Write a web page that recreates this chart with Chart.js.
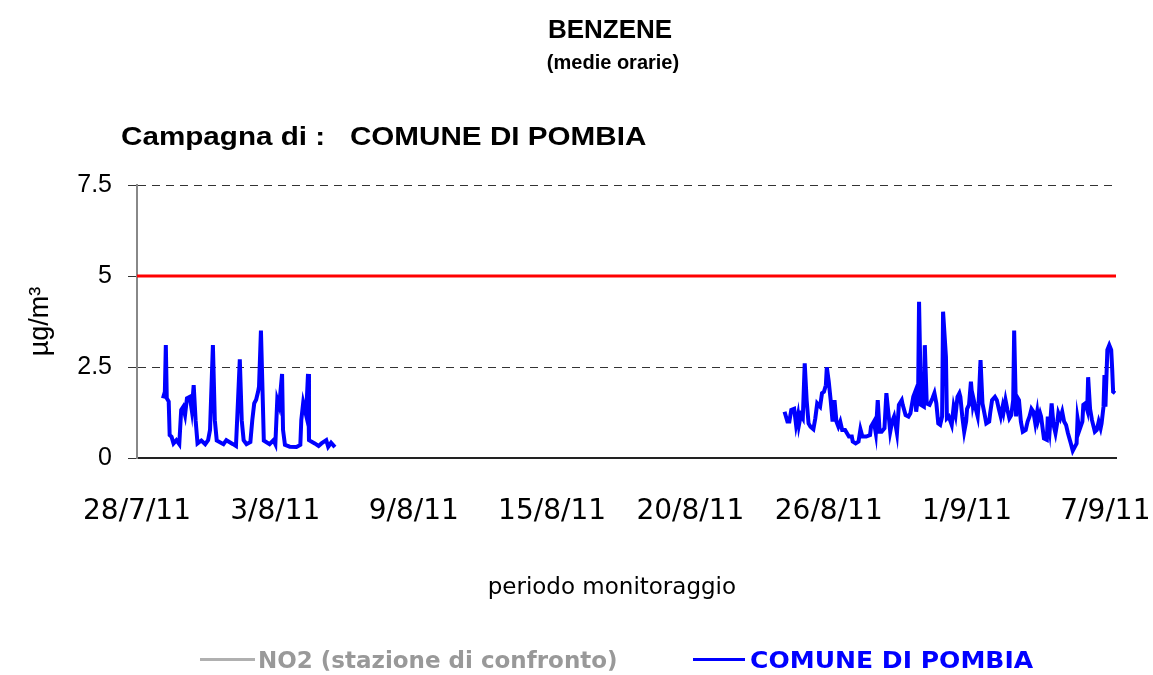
<!DOCTYPE html>
<html>
<head>
<meta charset="utf-8">
<title>Benzene - Comune di Pombia</title>
<script src="https://cdn.jsdelivr.net/npm/chart.js@4.4.1/dist/chart.umd.min.js"></script>
<style>
  html, body { margin: 0; padding: 0; background: #fff; }
  #wrap { position: relative; width: 1153px; height: 675px; overflow: hidden; }
  #chart { position: absolute; left: 0; top: 0; }
  .txt { position: absolute; white-space: pre; line-height: 1; transform: translateY(-50%); }
  .arial { font-family: "Liberation Sans", Arial, sans-serif; font-weight: bold; color: #000; }
  .center { transform: translate(-50%, -50%); }
  .wide { transform-origin: 0 50%; transform: translateY(-50%) scaleX(1.14); }
  .leg { font-family: "DejaVu Sans", sans-serif; font-weight: bold; font-size: 23px; }
  .legline { position: absolute; height: 3px; }
</style>
</head>
<body>
<div id="wrap">
  <canvas id="chart" width="1153" height="675"></canvas>

  <div class="txt arial center" style="left:610px; top:29px; font-size:26px;">BENZENE</div>
  <div class="txt arial center" style="left:613px; top:62px; font-size:20px;">(medie orarie)</div>
  <div class="txt arial wide" style="left:121px; top:136px; font-size:26px;">Campagna di :   COMUNE DI POMBIA</div>

  <div class="legline" style="left:200px; top:658px; width:55px; background:#b0b0b0;"></div>
  <div class="txt leg" style="left:258px; top:660px; color:#999;">NO2 (stazione di confronto)</div>
  <div class="legline" style="left:693px; top:658px; width:52px; background:#0000ff;"></div>
  <div class="txt leg" style="left:750px; top:660px; color:#0000ff; transform-origin:0 50%; transform:translateY(-50%) scaleX(1.09);">COMUNE DI POMBIA</div>
</div>

<script>
/* ── Data (hourly means, x = hours from 28/7/11) ─────────────────── */
const xMaxHour    = 1019;
const xTickHours  = [0, 144, 288, 432, 576, 720, 864, 1008];
const xTickLabels = ['28/7/11', '3/8/11', '9/8/11', '15/8/11', '20/8/11', '26/8/11', '1/9/11', '7/9/11'];
const yTicks      = [0, 2.5, 5, 7.5];
const limitValue  = 5;

// first part of the campaign
const hoursP1 = [27, 29, 30, 31, 33, 34, 36, 38, 41, 44,
                 46, 48, 50, 52, 55, 57, 59, 61, 63, 67,
                 71, 74, 76, 79, 81, 83, 90, 93, 100, 103,
                 105, 107, 109, 111, 114, 118, 120, 122, 124, 126,
                 127, 129, 131, 132, 138, 142, 144, 146, 148, 151,
                 152, 154, 159, 166, 170, 171, 173, 176, 178, 179,
                 185, 189, 192, 197, 199, 202, 206];
const valuesP1 = [1.64, 1.82, 3.10, 1.64, 1.55, 0.63, 0.58, 0.40, 0.49, 0.38,
                  1.32, 1.40, 1.18, 1.64, 1.68, 1.32, 2.00, 1.04, 0.40, 0.48,
                  0.38, 0.49, 0.77, 3.10, 1.04, 0.48, 0.38, 0.49, 0.38, 0.33,
                  1.50, 2.71, 1.04, 0.49, 0.38, 0.44, 1.04, 1.50, 1.60, 1.82,
                  1.96, 3.50, 1.50, 0.48, 0.38, 0.49, 0.38, 1.60, 1.43, 2.31,
                  0.77, 0.36, 0.31, 0.30, 0.36, 1.04, 1.52, 1.18, 2.31, 0.49,
                  0.40, 0.33, 0.40, 0.49, 0.31, 0.42, 0.30];

// second part of the campaign
const hoursP2 = [674, 677, 679, 681, 684, 686, 688, 689, 691, 693,
                 695, 697, 699, 701, 704, 706, 708, 711, 713, 715,
                 717, 718, 720, 722, 724, 726, 728, 730, 732, 734,
                 737, 739, 741, 744, 745, 748, 751, 753, 755, 759,
                 763, 764, 767, 769, 771, 773, 775, 778, 780, 783,
                 784, 786, 788, 791, 793, 796, 797, 800, 803, 805,
                 808, 810, 811, 813, 814, 816, 819, 820, 822, 825,
                 828, 830, 832, 834, 836, 838, 839, 842, 843, 845,
                 848, 850, 852, 854, 856, 857, 859, 861, 863, 864,
                 866, 868, 870, 871, 873, 875, 876, 878, 880, 882,
                 884, 887, 888, 890, 893, 895, 897, 899, 901, 902,
                 904, 906, 908, 910, 912, 913, 915, 916, 918, 920,
                 922, 925, 927, 929, 931, 933, 935, 937, 938, 940,
                 941, 944, 947, 948, 950, 952, 954, 956, 958, 959,
                 961, 963, 965, 967, 969, 972, 974, 976, 978, 979,
                 981, 984, 985, 987, 989, 990, 992, 994, 997, 999,
                 1001, 1003, 1004, 1006, 1007, 1008, 1010, 1012, 1014, 1015,
                 1016, 1018];
const valuesP2 = [1.27, 1.00, 1.00, 1.32, 1.35, 0.91, 1.18, 0.91, 1.18, 1.09,
                  2.60, 1.59, 0.95, 0.86, 0.79, 1.09, 1.50, 1.41, 1.78, 1.82,
                  2.00, 2.49, 2.10, 1.59, 1.00, 1.59, 1.00, 0.86, 1.00, 0.77,
                  0.77, 0.68, 0.59, 0.59, 0.45, 0.40, 0.45, 0.79, 0.59, 0.59,
                  0.63, 0.86, 1.00, 0.68, 1.59, 0.72, 0.72, 0.82, 1.78, 1.00,
                  0.72, 1.00, 1.14, 0.68, 1.46, 1.59, 1.46, 1.18, 1.14, 1.23,
                  1.68, 1.82, 1.27, 1.68, 4.29, 1.46, 1.41, 3.10, 1.50, 1.46,
                  1.64, 1.78, 1.50, 0.95, 0.91, 1.14, 4.02, 2.78, 1.09, 1.14,
                  0.91, 1.41, 1.18, 1.68, 1.78, 1.68, 1.14, 0.72, 1.00, 1.35,
                  1.46, 2.10, 1.46, 1.59, 1.35, 1.14, 1.50, 2.69, 1.50, 1.23,
                  0.95, 1.00, 1.23, 1.59, 1.68, 1.59, 1.35, 1.14, 1.41, 1.27,
                  1.59, 1.32, 1.09, 1.18, 1.59, 3.50, 1.14, 1.68, 1.59, 1.00,
                  0.72, 0.77, 1.00, 1.14, 1.35, 1.27, 0.95, 1.27, 1.04, 1.23,
                  1.14, 0.54, 0.50, 1.14, 0.77, 1.50, 0.91, 0.68, 1.00, 1.23,
                  1.09, 1.27, 1.00, 0.91, 0.68, 0.40, 0.20, 0.30, 0.40, 1.09,
                  0.77, 1.00, 1.46, 1.50, 1.32, 2.22, 1.35, 1.04, 0.72, 0.77,
                  1.00, 0.82, 0.95, 1.41, 2.28, 1.41, 2.97, 3.10, 2.97, 2.46,
                  1.82, 1.78];

// reference station: nothing plotted in this period
const no2Values = [];

/* ── Build series ───────────────────────────────────────────────── */
const toPoints = (hours, vals) => hours.map((h, i) => ({ x: h, y: vals[i] }));
const pombiaData = [
  ...toPoints(hoursP1, valuesP1),
  { x: hoursP1[hoursP1.length - 1] + 1, y: null },   // no data between the two periods
  ...toPoints(hoursP2, valuesP2),
];
const limitData = [{ x: 0, y: limitValue }, { x: xMaxHour, y: limitValue }];

/* ── Chart ──────────────────────────────────────────────────────── */
new Chart(document.getElementById('chart').getContext('2d'), {
  type: 'line',
  data: {
    datasets: [
      {
        label: 'limite',
        data: limitData,
        borderColor: '#ff0000',
        borderWidth: 3,
        pointRadius: 0,
        order: 2,
      },
      {
        label: 'NO2 (stazione di confronto)',
        data: no2Values,
        borderColor: '#aaaaaa',
        borderWidth: 3,
        pointRadius: 0,
      },
      {
        label: 'COMUNE DI POMBIA',
        data: pombiaData,
        borderColor: '#0000ff',
        borderWidth: 4,
        pointRadius: 0,
        tension: 0,
        spanGaps: false,
        order: 1,
      },
    ],
  },
  options: {
    responsive: false,
    animation: false,
    layout: { padding: { left: 0, right: 37, top: 185, bottom: 0 } },
    plugins: {
      legend: { display: false },
      tooltip: { enabled: false },
    },
    scales: {
      x: {
        type: 'linear',
        min: 0,
        max: xMaxHour,
        grid: { display: false },
        border: { display: true, color: '#222', width: 2 },
        afterBuildTicks: s => { s.ticks = xTickHours.map(v => ({ value: v })); },
        afterFit: s => { s.height = 217; s.paddingLeft = 0; s.paddingRight = 0; },
        ticks: {
          autoSkip: false,
          maxRotation: 0,
          padding: 29,
          color: '#000',
          font: { family: 'DejaVu Sans', size: 28 },
          callback: v => xTickLabels[xTickHours.indexOf(v)] ?? '',
        },
        title: {
          display: true,
          text: 'periodo monitoraggio    ',   // trailing spaces nudge it left like the original
          color: '#000',
          font: { family: 'DejaVu Sans', size: 23 },
          padding: { top: 0, bottom: 73 },
        },
      },
      y: {
        min: 0,
        max: 7.5,
        afterBuildTicks: s => { s.ticks = yTicks.map(v => ({ value: v })); },
        afterFit: s => { s.width = 137; s.paddingTop = 0; s.paddingBottom = 0; },
        grid: {
          color: '#333',
          lineWidth: 1,
          drawTicks: true,
          tickLength: 9,
          tickColor: '#333',
        },
        border: { display: true, color: '#888', width: 2, dash: [8, 6] },
        ticks: {
          padding: 16,
          color: '#000',
          font: { family: 'Liberation Sans', size: 25 },
        },
        title: {
          display: true,
          text: 'µg/m³',
          color: '#000',
          font: { family: 'Liberation Sans', size: 27 },
          padding: { top: 24, bottom: 0 },
        },
      },
    },
  },
});
</script>
</body>
</html>
